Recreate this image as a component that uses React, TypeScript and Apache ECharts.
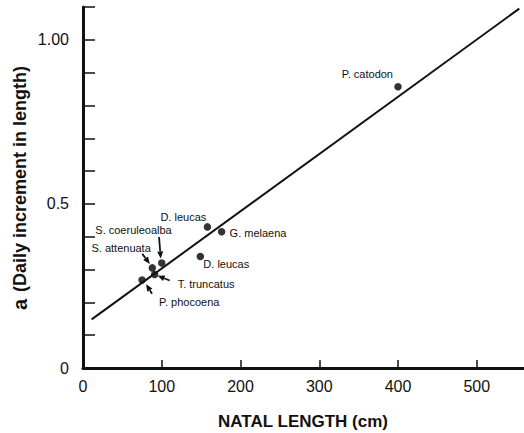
import React, { useEffect, useRef } from "react";
import * as echarts from "echarts";

// Species (point labels), natal length (cm) and a (daily increment in length)
const species = [
  "P. catodon",
  "D. leucas",
  "G. melaena",
  "D. leucas",
  "S. coeruleoalba",
  "S. attenuata",
  "T. truncatus",
  "P. phocoena",
];
const natalLength = [400, 158, 176, 149, 100, 88, 91, 75];
const dailyIncrement = [0.857, 0.43, 0.415, 0.34, 0.32, 0.305, 0.285, 0.268];

// Fitted regression line end points
const fitX = [11, 554];
const fitY = [0.148, 1.095];

// Axis tick labels
const yLabelText: Record<string, string> = { "0": "0", "0.5": "0.5", "1": "1.00" };

// Layout of annotations (pixel offsets from each point), not data
const labelLayout = [
  { dx: -5, dy: -13, align: "right" },
  { dx: -47, dy: -10, align: "left" },
  { dx: 8, dy: 1, align: "left" },
  { dx: 3, dy: 7.5, align: "left" },
  { dx: 10, dy: -32.5, align: "right" },
  { dx: -1.5, dy: -19.5, align: "right" },
  { dx: 23, dy: 9.7, align: "left" },
  { dx: 17, dy: 22, align: "left" },
];
const arrowLayout: (null | { tail: number[]; head: number[] })[] = [
  null,
  null,
  null,
  null,
  { tail: [-2.7, -26], head: [-1, -4.5] },
  { tail: [-10, -14], head: [-2.5, -4] },
  { tail: [15, 6], head: [3, 1.2] },
  { tail: [10, 13.6], head: [4, 4.3] },
];

const FONT = "'Liberation Sans', Arial, Helvetica, sans-serif";
const INK = "#111";

export default function App() {
  const ref = useRef<HTMLDivElement>(null);
  useEffect(() => {
    if (!ref.current) return;
    const chart = echarts.init(ref.current, null, { renderer: "svg" });
    chart.setOption({
      animation: false,
      grid: { left: 83, right: -2, top: 7, bottom: 65 },
      xAxis: {
        type: "value",
        min: 0,
        max: 560,
        interval: 100,
        axisLine: { show: true, lineStyle: { color: INK, width: 3 } },
        axisTick: { show: true, inside: true, length: 8, lineStyle: { color: INK, width: 1.5 } },
        axisLabel: { fontSize: 16, color: INK, fontFamily: FONT, margin: 10, showMaxLabel: false },
        splitLine: { show: false },
      },
      yAxis: {
        type: "value",
        min: 0,
        max: 1.1,
        interval: 0.1,
        axisLine: { show: true, lineStyle: { color: INK, width: 3 } },
        axisTick: { show: true, inside: true, length: 12, lineStyle: { color: INK, width: 1.5 } },
        axisLabel: {
          fontSize: 16,
          color: INK,
          fontFamily: FONT,
          margin: 14,
          formatter: (v: number) => {
            const k = String(Math.round(v * 10) / 10);
            return yLabelText[k] ?? "";
          },
        },
        splitLine: { show: false },
      },
      series: [
        {
          type: "line",
          data: fitX.map((x, i) => [x, fitY[i]]),
          symbol: "none",
          lineStyle: { color: INK, width: 2 },
          silent: true,
        },
        {
          type: "scatter",
          data: natalLength.map((x, i) => [x, dailyIncrement[i]]),
          symbolSize: 7.5,
          itemStyle: { color: "#000" },
        },
      ],
    });

    const graphics: any[] = [];
    natalLength.forEach((x, i) => {
      const p = chart.convertToPixel({ gridIndex: 0 }, [x, dailyIncrement[i]]) as number[];
      const L = labelLayout[i];
      graphics.push({
        type: "text",
        x: p[0] + L.dx,
        y: p[1] + L.dy,
        style: {
          text: species[i],
          fontSize: 11,
          fontFamily: FONT,
          fill: INK,
          align: L.align,
          verticalAlign: "middle",
        },
      });
      const A = arrowLayout[i];
      if (A) {
        const tx = p[0] + A.tail[0], ty = p[1] + A.tail[1];
        const hx = p[0] + A.head[0], hy = p[1] + A.head[1];
        const len = Math.hypot(hx - tx, hy - ty);
        const ux = (hx - tx) / len, uy = (hy - ty) / len;
        const bx = hx - ux * 7, by = hy - uy * 7;
        const px = -uy, py = ux;
        graphics.push({
          type: "line",
          shape: { x1: tx, y1: ty, x2: bx, y2: by },
          style: { stroke: INK, lineWidth: 1.8 },
        });
        graphics.push({
          type: "polygon",
          shape: {
            points: [
              [hx, hy],
              [bx + px * 3, by + py * 3],
              [bx - px * 3, by - py * 3],
            ],
          },
          style: { fill: INK },
        });
      }
    });

    graphics.push({
      type: "text",
      x: 303,
      y: 421,
      style: {
        text: "NATAL LENGTH (cm)",
        fontSize: 17,
        fontWeight: "bold",
        fontFamily: FONT,
        fill: INK,
        align: "center",
        verticalAlign: "middle",
      },
    });
    graphics.push({
      type: "text",
      x: 20,
      y: 188,
      rotation: Math.PI / 2,
      style: {
        text: "{a|a}  {b|(Daily increment in length)}",
        fontFamily: FONT,
        fontSize: 12,
        fill: INK,
        align: "center",
        verticalAlign: "middle",
        rich: {
          a: { fontSize: 20, fontWeight: "bold", fontFamily: FONT, fill: INK },
          b: { fontSize: 18, fontWeight: "bold", fontFamily: FONT, fill: INK },
        },
      },
    });

    chart.setOption({ graphic: graphics });
    return () => chart.dispose();
  }, []);

  return (
    <div
      ref={ref}
      style={{ position: "fixed", left: 0, top: 0, width: 524, height: 433, background: "#fff" }}
    />
  );
}
